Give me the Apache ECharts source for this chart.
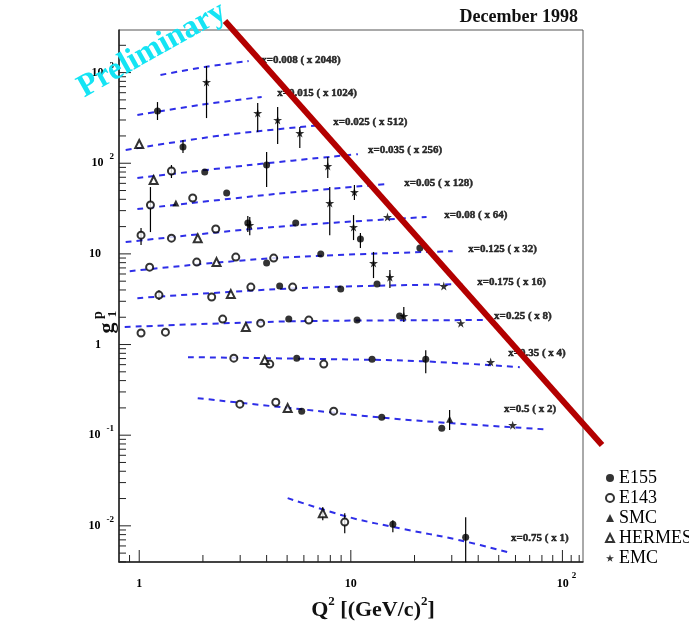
<!DOCTYPE html>
<html><head><meta charset="utf-8">
<script src="https://cdn.jsdelivr.net/npm/echarts@6/dist/echarts.min.js"></script>
<style>html,body{margin:0;padding:0;background:#fff}#c{width:689px;height:629px}</style>
</head><body><div id="c"></div>
<script>
// ---------- data (Q^2 in (GeV/c)^2, scaled g1^p) ----------
const e155 = [[1.22,377],[1.61,151],[2.04,80.0],[4.0,95.5],[2.59,46.9],[3.26,21.9],[5.49,21.9],[11.1,14.6],[4.0,7.91],[7.21,9.95],[21.2,11.6],[4.61,4.41],[8.96,4.09],[13.3,4.64],[5.09,1.91],[10.7,1.86],[17.0,2.06],[5.55,0.708],[12.6,0.690],[22.6,0.690],[5.86,0.184],[14.0,0.158],[26.9,0.119],[15.8,0.0104],[34.9,0.00749]];
const e155Err = [[1.22,300,473],[1.61,130,180],[4.0,54.6,133],[3.26,17.4,26.1],[11.1,11.6,17.0],[22.6,0.483,0.867],[15.8,0.00851,0.0115],[34.9,0.00397,0.0124]];
const e143 = [[1.42,82.0],[1.13,34.6],[1.79,41.3],[1.02,16.1],[1.42,14.9],[2.30,18.8],[1.12,7.14],[1.87,8.12],[2.86,9.22],[4.32,8.99],[1.24,3.51],[2.20,3.34],[3.37,4.30],[5.31,4.30],[1.02,1.34],[1.33,1.37],[2.48,1.91],[3.75,1.72],[6.33,1.86],[2.80,0.708],[4.14,0.608],[7.45,0.608],[2.99,0.220],[4.42,0.231],[8.30,0.184],[9.36,0.0110]];
const e143Err = [[1.42,68.7,95.5],[1.13,17.4,54.6],[1.02,12.5,19.3],[1.24,3.09,3.98],[9.36,0.00829,0.0138]];
const smc = [[1.49,36.4],[29.3,0.150]];
const smcErr = [[29.3,0.114,0.189]];
const hermes = [[1.0,163],[1.17,65.3],[1.89,14.9],[2.32,8.12],[2.71,3.60],[3.19,1.56],[3.92,0.673],[5.03,0.199],[7.37,0.0138]];
const hermesErr = [[7.37,0.0115,0.0160]];
const emc = [[2.08,787],[3.63,358],[4.51,300],[5.74,215],[7.78,93.1],[10.4,48.1],[7.95,36.4],[10.3,19.8],[14.9,25.5],[3.33,20.8],[12.8,7.91],[15.3,5.54],[27.5,4.41],[17.8,2.06],[33.1,1.72],[45.8,0.640],[58.2,0.129]];
const emcErr = [[2.08,315,1183],[3.63,221,461],[4.51,163,417],[5.74,147,251],[7.78,68.7,117],[10.4,39.3,57.5],[7.95,16.1,54.6],[10.3,14.2,26.8],[3.33,16.1,25.5],[12.8,5.41,10.5],[15.3,4.20,6.62],[17.8,1.77,2.59]];

// fit curves, one per x bin
const fit008 = [[1.26,941],[2.04,1153],[3.29,1343]];
const fit015 = [[0.98,340],[1.93,439],[3.79,538]];
const fit025 = [[0.863,140],[2.54,205],[7.29,264]];
const fit035 = [[0.98,68.7],[3.33,95.5],[10.8,126]];
const fit05  = [[0.98,31.2],[4.37,45.7],[14.6,58.9]];
const fit08  = [[0.863,13.5],[4.37,19.8],[22.8,25.5]];
const fit125 = [[0.902,6.45],[4.37,8.99],[30.3,10.7]];
const fit175 = [[0.98,3.25],[5.74,4.20],[34.5,4.64]];
const fit25  = [[0.854,1.56],[5.74,1.81],[42.9,1.86]];
const fit35  = [[1.70,0.726],[7.95,0.690],[21.2,0.656],[62.9,0.563]];
const fit5   = [[1.89,0.256],[5.74,0.194],[17.0,0.150],[82.5,0.116]];
const fit75  = [[5.03,0.0202],[9.88,0.0124],[17.0,0.00941],[32.7,0.00694],[57.6,0.00499]];

const binLabels = ['x=0.008 ( x 2048)','x=0.015 ( x 1024)','x=0.025 ( x 512)','x=0.035 ( x 256)','x=0.05 ( x 128)','x=0.08 ( x 64)','x=0.125 ( x 32)','x=0.175 ( x 16)','x=0.25 ( x 8)','x=0.35 ( x 4)','x=0.5 ( x 2)','x=0.75 ( x 1)'];
const labelQ2 = [3.75,4.47,8.21,12.0,17.8,27.5,35.7,39.4,47.3,55.1,52.7,56.9];
const labelG  = [1377,596,285,140,60.5,26.8,11.3,4.88,2.06,0.804,0.194,0.0073];

// ticks
const xMajor = [1,10,100];
const xTickBase = ['1','10','10'];
const xTickExp = ['','','2'];
const xMinor = [0.9,2,3,4,5,6,7,8,9,20,30,40,50,60,70,80,90,110,120];
const yMajor = [0.01,0.1,1,10,100,1000];
const yTickBase = ['10','10','1','10','10','10'];
const yTickExp = ['-2','-1','','','2','3'];
const minorMult = [2,3,4,5,6,7,8,9];
const yMinorDecades = [0.001,0.01,0.1,1,10,100,1000];

const X_MIN = 0.8025, X_MAX = 125.1, Y_MIN = 0.00399, Y_MAX = 2950;
const FONT = 'Liberation Serif';

// ---------- build ----------
const yMinor = [];
yMinorDecades.forEach(d => minorMult.forEach(m => { const v = +(d*m).toPrecision(3); if (v > Y_MIN && v < Y_MAX) yMinor.push(v); }));

function matchTick(v, vals) {
  const lv = Math.log10(v);
  for (let i = 0; i < vals.length; i++) if (Math.abs(lv - Math.log10(vals[i])) < 1e-6) return i;
  return -1;
}

const fitColor = '#2e2ee8';
const fits = [fit008,fit015,fit025,fit035,fit05,fit08,fit125,fit175,fit25,fit35,fit5,fit75];
const series = [];
fits.forEach((f, i) => series.push({
  type:'line', name:'fit'+i, data:f, smooth:0.35, symbol:'none', silent:true, z:2,
  lineStyle:{color:fitColor, width:2, type:[6,5]}
}));

function errSeries(name, data) {
  return {type:'custom', name:name+' err', silent:true, z:3, data, encode:{x:0, y:[1,2]},
    renderItem(params, api) {
      const a = api.coord([api.value(0), api.value(1)]);
      const b = api.coord([api.value(0), api.value(2)]);
      return {type:'line', shape:{x1:a[0],y1:a[1],x2:b[0],y2:b[1]}, style:{stroke:'#000', lineWidth:1.2}};
    }};
}
series.push(errSeries('E155', e155Err), errSeries('E143', e143Err), errSeries('SMC', smcErr), errSeries('HERMES', hermesErr), errSeries('EMC', emcErr));

const starPath = 'path://M50,0 L61,35 98,35 68,57 79,91 50,70 21,91 32,57 2,35 39,35Z';
series.push(
  {type:'scatter', name:'E155', data:e155, symbol:'circle', symbolSize:7, z:4, itemStyle:{color:'#000'}},
  {type:'scatter', name:'E143', data:e143, symbol:'emptyCircle', symbolSize:7, z:4, itemStyle:{color:'#000', borderWidth:1.3}},
  {type:'scatter', name:'SMC', data:smc, symbol:'triangle', symbolSize:7, z:4, itemStyle:{color:'#000'}},
  {type:'scatter', name:'HERMES', data:hermes, symbol:'emptyTriangle', symbolSize:8, z:4, itemStyle:{color:'#000', borderWidth:1.2}},
  {type:'scatter', name:'EMC', data:emc, symbol:starPath, symbolSize:9, z:4, itemStyle:{color:'#000'}}
);

series.push({
  type:'scatter', name:'binLabels', silent:true, z:6, symbolSize:1, itemStyle:{color:'rgba(0,0,0,0)'},
  data: binLabels.map((t, i) => ({name:t, value:[labelQ2[i], labelG[i]]})),
  label:{show:true, position:'right', distance:0, formatter:'{b}', fontFamily:FONT, fontWeight:700, fontSize:11, color:'#000',
    textBorderColor:'#000', textBorderWidth:0.5}
});

function tickSeries(data, dir) {
  return {type:'custom', silent:true, clip:false, z:5, data, encode:{x:0, y:1},
    renderItem(params, api) {
      const p = api.coord([api.value(0), api.value(1)]);
      const len = api.value(2) ? 12 : 7;
      const shape = dir === 'x' ? {x1:p[0],y1:p[1],x2:p[0],y2:p[1]-len} : {x1:p[0],y1:p[1],x2:p[0]+len,y2:p[1]};
      return {type:'line', shape, style:{stroke:'#222', lineWidth:1}};
    }};
}
const xTickData = xMajor.map(v => [v, Y_MIN, 1]).concat(xMinor.map(v => [v, Y_MIN, 0]));
const yTickData = yMajor.map(v => [X_MIN, v, 1]).concat(yMinor.map(v => [X_MIN, v, 0]));
series.push(tickSeries(xTickData, 'x'), tickSeries(yTickData, 'y'));

const option = {
  animation:false,
  backgroundColor:'#fff',
  grid:{left:119, right:106, top:30, bottom:67, show:true, borderColor:'#555', borderWidth:1},
  legend:{data:['E155','E143','SMC','HERMES','EMC'], orient:'vertical', left:600, top:464,
    itemWidth:8, itemHeight:8, itemGap:2, selectedMode:false,
    textStyle:{fontFamily:FONT, fontSize:18, color:'#000'}},
  xAxis:{type:'log', logBase:10, min:X_MIN, max:X_MAX, splitLine:{show:false},
    axisLine:{lineStyle:{color:'#222', width:1.5}}, axisTick:{show:false},
    axisLabel:{interval:0, margin:9, color:'#000',
      formatter(v){ const i = matchTick(v, xMajor); if (i < 0) return '';
        return xTickExp[i] ? '{sp| }{b|'+xTickBase[i]+'}{s|'+xTickExp[i]+'}' : '{b|'+xTickBase[i]+'}'; },
      rich:{b:{fontFamily:FONT, fontWeight:'bold', fontSize:12, lineHeight:26, color:'#000'},
            s:{fontFamily:FONT, fontWeight:'bold', fontSize:9, verticalAlign:'top', padding:[0,0,0,3], color:'#000'},
            sp:{width:8}}}},
  yAxis:{type:'log', logBase:10, min:Y_MIN, max:Y_MAX, splitLine:{show:false},
    axisLine:{lineStyle:{color:'#222', width:1.5}}, axisTick:{show:false},
    axisLabel:{interval:0, margin:5, color:'#000',
      formatter(v){ const i = matchTick(v, yMajor); if (i < 0) return '';
        return yTickExp[i] ? '{b|'+yTickBase[i]+'}{s|'+yTickExp[i]+'}' : '{b|'+yTickBase[i]+'}{sp| }'; },
      rich:{b:{fontFamily:FONT, fontWeight:'bold', fontSize:12, lineHeight:22, color:'#000'},
            s:{fontFamily:FONT, fontWeight:'bold', fontSize:9, verticalAlign:'top', padding:[0,0,0,6], color:'#000'},
            sp:{width:13}}}},
  graphic:[
    {type:'text', z:50, x:578, y:17, style:{text:'December 1998', font:'bold 18px "Liberation Serif"', fill:'#111', align:'right', textAlign:'right', verticalAlign:'middle', textVerticalAlign:'middle'}},
    {type:'text', z:50, x:373, y:610, style:{text:'{b|Q}{s|2}{b| [(GeV/c)}{s|2}{b|]}', align:'center', textAlign:'center', verticalAlign:'middle', textVerticalAlign:'middle',
      rich:{b:{fontFamily:FONT, fontWeight:'bold', fontSize:22, lineHeight:30, fill:'#111', color:'#111'},
            s:{fontFamily:FONT, fontWeight:'bold', fontSize:13, verticalAlign:'top', fill:'#111', color:'#111'}}}},
    {type:'group', x:107, y:328, rotation:Math.PI/2, z:50, children:[
      {type:'text', x:0, y:0, style:{text:'g', font:'bold 22px "Liberation Serif"', fill:'#111', align:'center', textAlign:'center', verticalAlign:'middle', textVerticalAlign:'middle'}},
      {type:'text', x:14, y:6, style:{text:'1', font:'bold 13px "Liberation Serif"', fill:'#111', align:'center', textAlign:'center', verticalAlign:'middle', textVerticalAlign:'middle'}},
      {type:'text', x:13, y:-9, style:{text:'p', font:'bold 14px "Liberation Serif"', fill:'#111', align:'center', textAlign:'center', verticalAlign:'middle', textVerticalAlign:'middle'}}
    ]},
    {type:'text', z:60, x:152, y:50, rotation:0.51, style:{text:'Preliminary', font:'bold 32px "Liberation Serif"', fill:'#14e4f4', align:'center', textAlign:'center', verticalAlign:'middle', textVerticalAlign:'middle'}},
    {type:'line', z:100, shape:{x1:225, y1:21, x2:602, y2:445}, style:{stroke:'#b30000', lineWidth:6}}
  ],
  series
};
const chart = echarts.init(document.getElementById('c'));
chart.setOption(option);
</script>
</body></html>
